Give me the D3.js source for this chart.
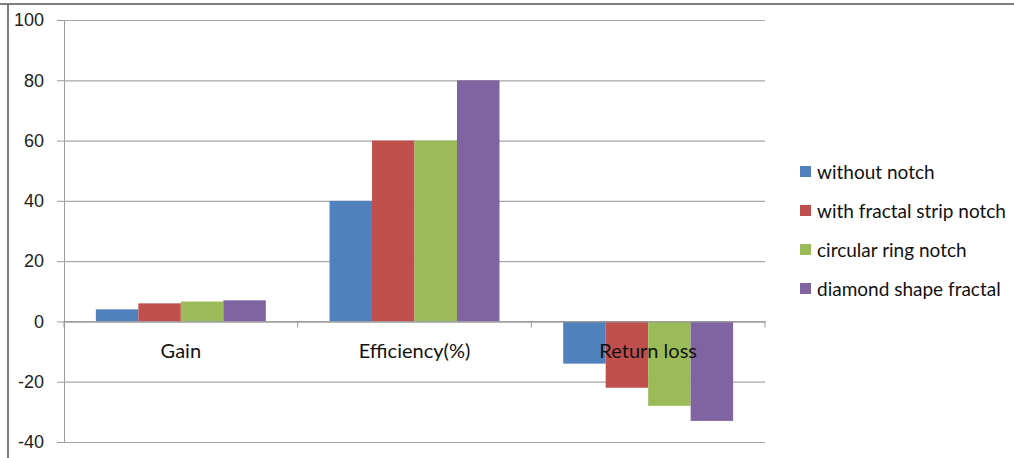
<!DOCTYPE html>
<html>
<head>
<meta charset="utf-8">
<script src="https://cdn.jsdelivr.net/npm/d3@7"></script>
<style>
  html, body { margin: 0; padding: 0; background: #fff; }
  svg { display: block; }
</style>
</head>
<body>
<svg id="chart" width="1014" height="458"></svg>
<script>
// Measured antenna parameters per design
const categories = ["Gain", "Efficiency(%)", "Return loss"];
const seriesNames = ["without notch", "with fractal strip notch", "circular ring notch", "diamond shape fractal"];
const withoutNotch = [4, 40, -14];
const fractalStripNotch = [6, 60, -22];
const circularRingNotch = [6.6, 60, -28];
const diamondShapeFractal = [7, 80, -33];
const yTicks = [-40, -20, 0, 20, 40, 60, 80, 100];
const colors = ["#4f81bd", "#c0504d", "#9bbb59", "#8064a2"];

const seriesValues = [withoutNotch, fractalStripNotch, circularRingNotch, diamondShapeFractal];

const svg = d3.select("#chart");
const W = 1014, H = 458;
const plot = { left: 64, right: 765, top: 20, bottom: 442 };

// Outer frame (top and left edges)
svg.append("line").attr("x1", 0).attr("x2", W).attr("y1", 4).attr("y2", 4)
  .attr("stroke", "#555").attr("stroke-width", 1.5);
svg.append("line").attr("x1", 8).attr("x2", 8).attr("y1", 4).attr("y2", H)
  .attr("stroke", "#555").attr("stroke-width", 1.5);

const y = d3.scaleLinear().domain([-40, 100]).range([plot.bottom, plot.top]);
const x0 = d3.scaleBand().domain(categories).range([plot.left, plot.right]).paddingInner(0).paddingOuter(0);
const x1 = d3.scaleBand().domain(seriesNames).range([0, x0.bandwidth()]).paddingOuter(0.75).paddingInner(0);

// Horizontal gridlines with y-axis ticks
const yAxis = d3.axisLeft(y).tickValues(yTicks)
  .tickSize(-(plot.right - plot.left)).tickSizeOuter(0).tickPadding(20)
  .tickFormat(d => String(d));
const gy = svg.append("g").attr("transform", `translate(${plot.left},0)`).call(yAxis);
gy.select(".domain").attr("stroke", "#9a9a9a");
gy.selectAll(".tick line").attr("stroke", "#a6a6a6").attr("stroke-width", 1.2);
gy.selectAll(".tick").append("line").attr("x1", -7).attr("x2", 0).attr("stroke", "#9a9a9a");
gy.selectAll(".tick text")
  .attr("font-family", "'Liberation Sans', Arial, sans-serif")
  .attr("font-size", 18).attr("fill", "#222");

// Bars
const groups = svg.append("g").selectAll("g")
  .data(categories)
  .join("g")
  .attr("transform", d => `translate(${x0(d)},0)`);

groups.selectAll("rect")
  .data((c, ci) => seriesNames.map((s, si) => ({ s, si, v: seriesValues[si][ci] })))
  .join("rect")
  .attr("x", d => x1(d.s))
  .attr("width", x1.bandwidth())
  .attr("y", d => y(Math.max(0, d.v)))
  .attr("height", d => Math.abs(y(d.v) - y(0)))
  .attr("fill", d => colors[d.si]);

// Category axis at zero
const xAxis = d3.axisBottom(x0).tickSize(0).tickSizeOuter(0).tickPadding(0);
const gx = svg.append("g").attr("transform", `translate(0,${y(0)})`).call(xAxis);
gx.select(".domain").attr("stroke", "#9a9a9a").attr("stroke-width", 1.2);
gx.selectAll(".tick text").remove();
// Boundary tick marks between categories
const bounds = categories.map(c => x0(c)).concat([plot.right]);
gx.selectAll(".bound").data(bounds).join("line")
  .attr("class", "bound")
  .attr("x1", d => d).attr("x2", d => d).attr("y1", 0).attr("y2", 6)
  .attr("stroke", "#9a9a9a");
// Category labels
svg.append("g").selectAll("text").data(categories).join("text")
  .attr("x", d => x0(d) + x0.bandwidth() / 2)
  .attr("y", y(0) + 37)
  .attr("text-anchor", "middle")
  .attr("font-family", "Lato, 'Open Sans', sans-serif")
  .attr("font-size", 20).attr("fill", "#111")
  .text(d => d);

// Legend
const legend = svg.append("g").selectAll("g").data(seriesNames).join("g")
  .attr("transform", (d, i) => `translate(800,${172 + i * 39})`);
legend.append("rect").attr("x", 0).attr("y", -6).attr("width", 11).attr("height", 11)
  .attr("fill", (d, i) => colors[i]);
legend.append("text").attr("x", 17).attr("y", 7)
  .attr("font-family", "Lato, 'Open Sans', sans-serif")
  .attr("font-size", 19).attr("fill", "#111")
  .text(d => d);
</script>
</body>
</html>
